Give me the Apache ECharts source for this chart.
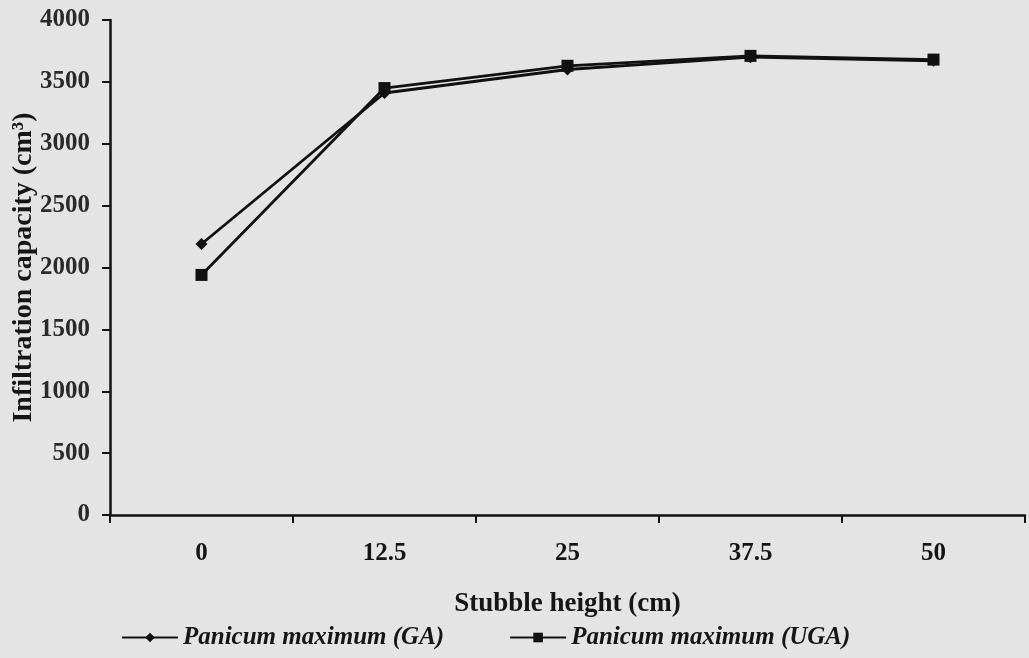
<!DOCTYPE html>
<html><head><meta charset="utf-8">
<script src="https://cdn.jsdelivr.net/npm/echarts@6/dist/echarts.min.js"></script>
<style>html,body{margin:0;padding:0;background:#e4e4e4;}#c{width:1029px;height:658px;}</style>
</head><body><div id="c"></div>
<script>
const categories = ['0', '12.5', '25', '37.5', '50'];
const seriesGA = [2190, 3410, 3600, 3700, 3670];
const seriesUGA = [1940, 3450, 3630, 3710, 3680];
const yTicks = { min: 0, max: 4000, interval: 500 };
const serif = '"Liberation Serif", "DejaVu Serif", serif';

const chart = echarts.init(document.getElementById('c'));
chart.setOption({
  backgroundColor: '#e4e4e4',
  animation: false,
  grid: { left: 110, right: 4, top: 20, bottom: 143, containLabel: false, outerBoundsMode: 'none' },
  legend: {
    bottom: 3, left: 116, itemGap: 65, itemWidth: 56, itemHeight: 12,
    textStyle: { fontFamily: serif, fontStyle: 'italic', fontWeight: 'bold', fontSize: 25, color: '#151515' },
    data: ['Panicum maximum (GA)', 'Panicum maximum (UGA)']
  },
  xAxis: {
    type: 'category', data: categories, boundaryGap: true,
    name: 'Stubble height (cm)', nameLocation: 'middle', nameGap: 76,
    nameTextStyle: { fontFamily: serif, fontWeight: 'bold', fontSize: 27, color: '#151515' },
    axisLine: { lineStyle: { color: '#111', width: 2.5 } },
    axisTick: { show: true, length: 8, inside: false, lineStyle: { color: '#111', width: 2 } },
    axisLabel: { fontFamily: serif, fontWeight: 'bold', fontSize: 25, color: '#151515', margin: 26 },
    splitLine: { show: false }
  },
  yAxis: {
    type: 'value', min: yTicks.min, max: yTicks.max, interval: yTicks.interval,
    name: 'Infiltration capacity (cm³)', nameLocation: 'middle', nameGap: 72, nameRotate: 90,
    nameMoveOverlap: false,
    nameTextStyle: { fontFamily: serif, fontWeight: 'bold', fontSize: 28, color: '#151515' },
    axisLine: { show: true, lineStyle: { color: '#111', width: 2.5 } },
    axisTick: { show: true, length: 8, inside: false, lineStyle: { color: '#111', width: 2 } },
    axisLabel: { fontFamily: serif, fontWeight: 'bold', fontSize: 25, color: '#2a2a2a', margin: 20,
      formatter: function (v) { return String(v); } },
    splitLine: { show: false }
  },
  series: [
    {
      name: 'Panicum maximum (GA)', type: 'line', data: seriesGA,
      symbol: 'diamond', symbolSize: 12,
      lineStyle: { color: '#111', width: 2.8 }, itemStyle: { color: '#111' }
    },
    {
      name: 'Panicum maximum (UGA)', type: 'line', data: seriesUGA,
      symbol: 'rect', symbolSize: 12,
      lineStyle: { color: '#111', width: 2.8 }, itemStyle: { color: '#111' }
    }
  ]
});
</script></body></html>
